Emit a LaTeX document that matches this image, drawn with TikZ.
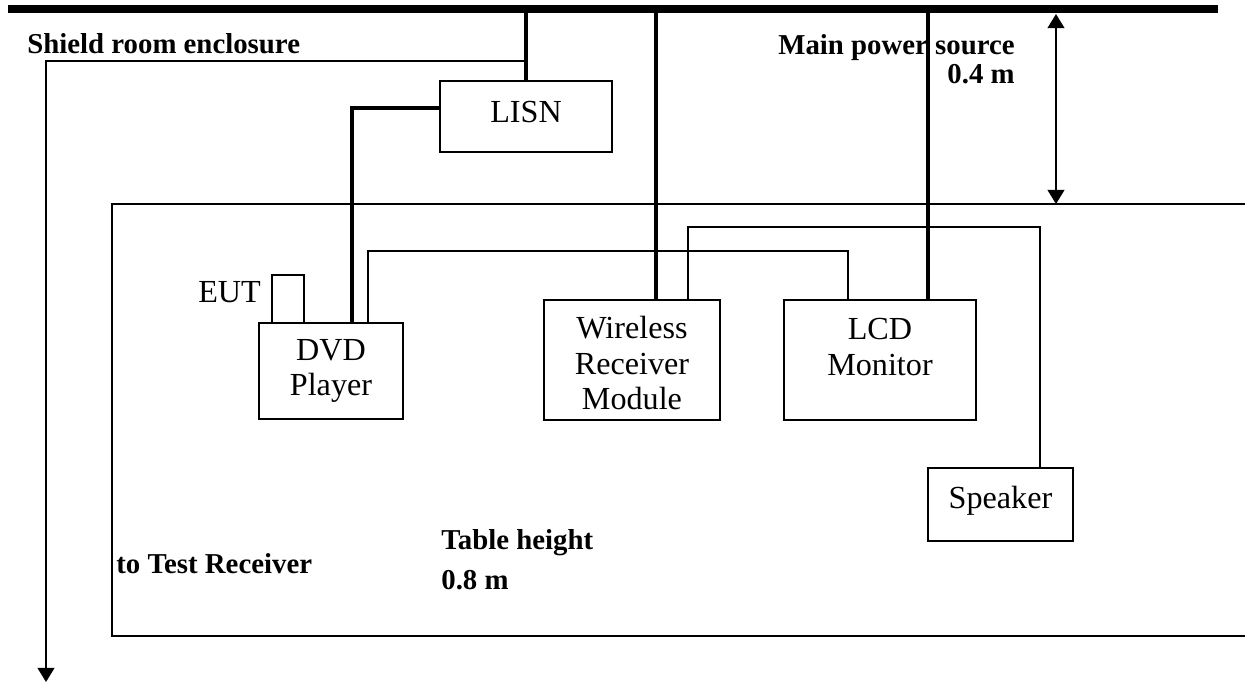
\documentclass[tikz,border=0pt]{standalone}
\usepackage{fontspec}
\setmainfont{Liberation Serif}
\usetikzlibrary{positioning, arrows.meta}

\begin{document}
\begin{tikzpicture}[x=0.02cm, y=-0.02cm, >={Triangle[length=8pt, width=9.5pt]},
  box/.style={draw, line width=1pt, align=center, inner sep=0pt, font=\fontsize{18.3}{20}\selectfont},
  boxtext/.style={inner sep=0pt, align=center, font=\fontsize{18.3}{20}\selectfont},
  power/.style={line width=2.8pt},
  cable/.style={line width=1pt},
  note/.style={inner sep=0pt, font=\bfseries\fontsize{16.4}{19}\selectfont}]
\useasboundingbox (0,0) rectangle (1245,684);

% power bus and table
\coordinate (busL) at (8,9);
\coordinate (busR) at (1218,9);
\draw[line width=4.4pt] (busL) -- (busR);
\draw[cable] (1245,204) -- (112,204) -- (112,636) -- (1245,636);

% equipment
\node[box, minimum width=3.44cm, minimum height=1.42cm] (lisn) at (526,116.5) {};
\node[boxtext] (lisntxt) at ([yshift=0.08cm]lisn.center) {LISN};
\node[box, minimum width=2.88cm, minimum height=1.92cm] (dvd) at (331,371) {DVD\\Player};
\node[box, minimum width=0.64cm, minimum height=0.96cm] (eut) at (288,299) {};
\node[boxtext, left=0.2cm of eut, yshift=0.14cm] (eutlbl) {EUT};
\node[box, minimum width=3.52cm, minimum height=2.4cm] (wrm) at (632,360) {};
\node[boxtext] (wrmtxt) at ([yshift=-0.06cm]wrm.center) {Wireless\\Receiver\\Module};
\node[box, minimum width=3.84cm, minimum height=2.4cm] (lcd) at (880,360) {};
\node[boxtext] (lcdtxt) at ([yshift=0.26cm]lcd.center) {LCD\\Monitor};
\node[box, minimum width=2.9cm, minimum height=1.46cm] (spk) at (1000.5,504.5) {};
\node[boxtext] (spktxt) at ([yshift=0.08cm]spk.center) {Speaker};

% labels
\node[note, anchor=base west] (shield) at (27,53) {Shield room enclosure};
\node[note, anchor=base east] (mains) at (1015,54) {Main power source};
\node[note, anchor=base east] (hup) at (1015,83) {0.4 m};
\node[note, anchor=base west] (table) at (441,549) {Table height};
\node[note, anchor=base west] (hdown) at (441,589) {0.8 m};
\node[note, anchor=base west] (rx) at (116,573) {to Test Receiver};

% power lines
\draw[power] (lisn.north) -- (lisn.north |- busL);
\draw[power] ([yshift=0.17cm]lisn.west) -| ([xshift=0.42cm]dvd.north);
\draw[power] ([xshift=0.48cm]wrm.north) -- ([xshift=0.48cm]wrm.north |- busL);
\draw[power] ([xshift=0.96cm]lcd.north) -- ([xshift=0.96cm]lcd.north |- busL);

% signal cables
\draw[cable] ([xshift=0.74cm]dvd.north) -- ++(0,1.42cm) -| ([xshift=-0.64cm]lcd.north);
\draw[cable] ([xshift=1.12cm]wrm.north) -- ++(0,1.44cm) -| ([xshift=0.79cm]spk.north);
\coordinate (rxend) at (46,682);
\draw[cable, ->] ([yshift=0.38cm]lisn.north) -| (rxend);

% height arrow
\coordinate (dimtop) at (1056,14);
\coordinate (dimbot) at (1056,204);
\draw[cable, <->] (dimtop) -- (dimbot);
\end{tikzpicture}
\end{document}
